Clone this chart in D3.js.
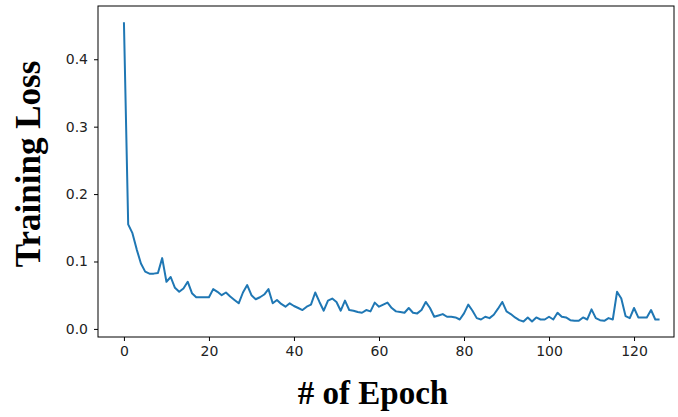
<!DOCTYPE html>
<html>
<head>
<meta charset="utf-8">
<script src="https://cdn.jsdelivr.net/npm/d3@7"></script>
<style>
  html, body { margin: 0; padding: 0; background: #fff; }
  svg { display: block; }
</style>
</head>
<body>
<svg id="chart" width="678" height="417"></svg>
<script>
// ---- data ----
const epochs = d3.range(0, 127);
const loss = [
  0.455, 0.155, 0.142, 0.118, 0.097, 0.085, 0.082, 0.082, 0.083, 0.105,
  0.070, 0.077, 0.061, 0.055, 0.060, 0.070, 0.053, 0.047, 0.047, 0.047,
  0.047, 0.059, 0.055, 0.050, 0.054, 0.048, 0.043, 0.038, 0.054, 0.065,
  0.050, 0.044, 0.047, 0.051, 0.059, 0.038, 0.043, 0.037, 0.033, 0.038,
  0.034, 0.031, 0.028, 0.033, 0.036, 0.054, 0.040, 0.027, 0.042, 0.045,
  0.040, 0.027, 0.042, 0.028, 0.027, 0.025, 0.024, 0.028, 0.026, 0.039,
  0.033, 0.036, 0.039, 0.031, 0.026, 0.025, 0.024, 0.031, 0.024, 0.023,
  0.028, 0.040, 0.031, 0.018, 0.020, 0.022, 0.018, 0.018, 0.017, 0.014,
  0.023, 0.036, 0.027, 0.016, 0.014, 0.018, 0.016, 0.021, 0.030, 0.040,
  0.026, 0.022, 0.017, 0.013, 0.011, 0.017, 0.011, 0.017, 0.014, 0.014,
  0.018, 0.014, 0.024, 0.018, 0.017, 0.013, 0.012, 0.012, 0.017, 0.014,
  0.029, 0.016, 0.013, 0.012, 0.016, 0.014, 0.055, 0.045, 0.019, 0.016,
  0.031, 0.017, 0.017, 0.017, 0.028, 0.014, 0.014
];
const xTicks = [0, 20, 40, 60, 80, 100, 120];
const yTicks = [0.0, 0.1, 0.2, 0.3, 0.4];
const xLabel = "# of Epoch";
const yLabel = "Training Loss";

// ---- layout ----
const L = 98, R = 674, T = 6, B = 337;
const svg = d3.select("#chart");

const x = d3.scaleLinear().domain([-6.1, 129.4]).range([L, R]);
const y = d3.scaleLinear().domain([-0.012, 0.479]).range([B, T]);

// frame
svg.append("rect")
  .attr("x", L).attr("y", T)
  .attr("width", R - L).attr("height", B - T)
  .attr("fill", "none").attr("stroke", "#000").attr("stroke-width", 1);

// line
const line = d3.line().x((d, i) => x(epochs[i])).y(d => y(d));
svg.append("path")
  .datum(loss)
  .attr("d", line)
  .attr("fill", "none")
  .attr("stroke", "#1f77b4")
  .attr("stroke-width", 2)
  .attr("stroke-linejoin", "round");

// axes
const xAxis = d3.axisBottom(x).tickValues(xTicks).tickSize(4).tickPadding(5).tickFormat(d3.format("d"));
const yAxis = d3.axisLeft(y).tickValues(yTicks).tickSize(4).tickPadding(6).tickFormat(d3.format(".1f"));

const gx = svg.append("g").attr("transform", `translate(0,${B})`).call(xAxis);
const gy = svg.append("g").attr("transform", `translate(${L},0)`).call(yAxis);
[gx, gy].forEach(g => {
  g.select(".domain").remove();
  g.selectAll(".tick line").attr("stroke", "#000").attr("stroke-width", 1);
  g.selectAll(".tick text")
    .attr("fill", "#222")
    .style("font-family", "'DejaVu Sans', sans-serif")
    .style("font-size", "14px");
});

// axis titles
svg.append("text")
  .attr("x", 373).attr("y", 404)
  .attr("text-anchor", "middle")
  .style("font-family", "'Liberation Serif', 'Times New Roman', serif")
  .style("font-weight", "bold")
  .style("font-size", "33px")
  .attr("fill", "#000")
  .text(xLabel);

svg.append("text")
  .attr("transform", "translate(40,164) rotate(-90)")
  .attr("text-anchor", "middle")
  .style("font-family", "'Liberation Serif', 'Times New Roman', serif")
  .style("font-weight", "bold")
  .style("font-size", "35px")
  .attr("fill", "#000")
  .text(yLabel);
</script>
</body>
</html>
